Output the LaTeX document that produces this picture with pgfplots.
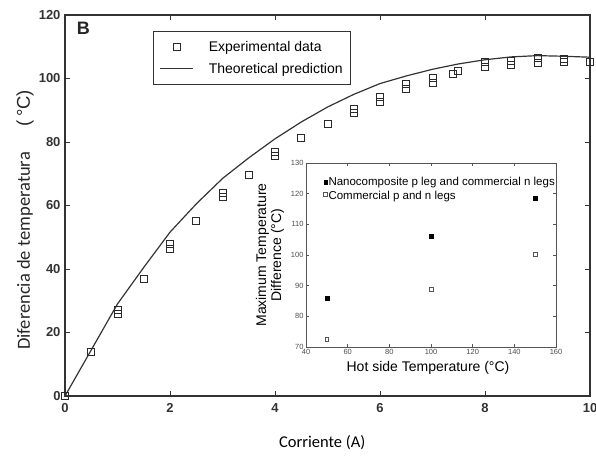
\documentclass[border=0pt]{standalone}
\usepackage{fontspec}
\setmainfont{Liberation Sans}
\newfontfamily\calibri{Carlito}
\usepackage{pgfplots}
\pgfplotsset{compat=1.18}
\definecolor{axgray}{HTML}{333333}
\definecolor{mkgray}{HTML}{2A2A2A}
\definecolor{ingray}{HTML}{555555}
\pgfplotsset{
    lineleg/.style={legend image code/.code={\draw[##1] (0bp,0bp) -- (33bp,0bp);}},
    markleg/.style={legend image code/.code={\draw[##1] plot coordinates {(17bp,0bp)};}},
    smallleg/.style={legend image code/.code={\draw[##1] plot coordinates {(2bp,0bp)};}},
    smalllegup/.style={legend image code/.code={\draw[##1] plot coordinates {(2bp,2bp)};}},
}

\begin{document}
\begin{tikzpicture}[x=1bp,y=1bp]
\path[use as bounding box] (0,0) rectangle (596,456);

% main plot
\begin{axis}[
    at={(65bp,60bp)}, anchor=south west,
    width=525bp, height=381bp, scale only axis,
    xmin=0, xmax=10, ymin=0, ymax=120,
    xtick={0,2,...,10}, ytick={0,20,...,120},
    tick align=inside, major tick length=5bp,
    tick style={axgray, line width=0.9pt},
    axis line style={axgray, line width=1.3pt},
    /pgf/number format/assume math mode=true,
    ticklabel style={font=\fontsize{13bp}{15bp}\selectfont\bfseries, text=black!80},
    xticklabel style={yshift=-4bp},
    yticklabel style={xshift=-1bp},
    xlabel={\calibri Corriente (A)},
    xlabel style={at={(axis description cs:0.49,-0.123)}, anchor=center,
        font=\fontsize{16.5bp}{18bp}\selectfont},
    ylabel={{\calibri Diferencia de temperatura}\hspace{26bp}(\,\textdegree C)},
    ylabel style={at={(axis description cs:-0.076,0.462)}, anchor=center,
        font=\fontsize{18.5bp}{20bp}\selectfont, text=black!85},
    legend style={at={(rel axis cs:0.168,0.958)}, anchor=north west,
        draw=axgray, line width=0.8pt,
        font=\fontsize{14bp}{16bp}\selectfont,
        inner xsep=6bp, inner ysep=8bp, row sep=6bp,
        /tikz/every odd column/.append style={column sep=13bp},
        cells={anchor=west}},
]
\addplot[only marks, mark=square, mark size=3.5bp, mkgray, line width=0.9pt, markleg]
coordinates {
    (0,0) (0.5,13.8) (1,27) (1,25.8) (1.5,37) (2,47.8) (2,46.4)
    (2.5,55.1) (3,63.9) (3,62.7) (3.5,69.7) (4,76.8) (4,75.5)
    (4.5,81.3) (5,85.6) (5.5,90.5) (5.5,89.3) (6,94.3) (6,92.6)
    (6.5,98.4) (6.5,96.6) (7,100.3) (7,98.7) (7.38,101.5) (7.49,102.4)
    (8,105.2) (8,103.7) (8.5,105.5) (8.5,104.4) (9,106.6) (9,105)
    (9.5,106) (9.5,105.2) (10,105.1)
};
\addlegendentry{Experimental data}
\addplot[axgray, line width=1.2pt, lineleg]
coordinates {
    (0,0) (0.5,14.5) (1,29) (1.5,40.5) (2,51.6) (2.5,60.5) (3,68.5)
    (3.5,75) (4,81) (4.5,86.3) (5,91) (5.5,95) (6,98.4) (6.5,100.8)
    (7,102.9) (7.5,104.6) (8,105.9) (8.5,106.8) (9,107.2) (9.5,107)
    (10,106.7)
};
\addlegendentry{Theoretical prediction}
\node[font=\fontsize{18bp}{20bp}\selectfont\bfseries, text=black!85]
    at (rel axis cs:0.035,0.965) {B};
\end{axis}

% inset
\begin{axis}[
    at={(306bp,109bp)}, anchor=south west,
    width=250bp, height=184bp, scale only axis,
    xmin=40, xmax=160, ymin=70, ymax=130,
    xtick={40,60,...,160}, ytick={70,80,...,130},
    tick align=inside, major tick length=3bp,
    tick style={ingray, line width=0.6pt},
    axis line style={ingray, line width=0.9pt},
    /pgf/number format/assume math mode=true,
    ticklabel style={font=\fontsize{7.5bp}{9bp}\selectfont, text=black!70},
    xticklabel style={yshift=1bp},
    yticklabel style={xshift=1bp},
    xlabel={Hot side Temperature (\textdegree C)},
    xlabel style={at={(axis description cs:0.488,-0.114)}, anchor=center,
        font=\fontsize{14bp}{16bp}\selectfont},
    ylabel={Maximum Temperature\\Difference (\textdegree C)},
    ylabel style={at={(axis description cs:-0.144,0.5)}, anchor=center,
        align=center, font=\fontsize{14bp}{15bp}\selectfont},
    legend style={at={(rel axis cs:0.07,0.93)}, anchor=north west,
        draw=none, fill=none,
        font=\fontsize{11.5bp}{13bp}\selectfont,
        inner sep=0bp, row sep=1bp,
        cells={anchor=west},
        nodes={inner xsep=1bp, inner ysep=1.5bp}},
]
\addplot[only marks, mark=square*, mark size=1.9bp, black, smallleg]
coordinates {(50,86) (100,106.2) (150,118.5)};
\addlegendentry{Nanocomposite p leg and commercial n legs}
\addplot[only marks, mark=square, mark size=1.9bp, ingray, line width=0.6pt, smalllegup]
coordinates {(50,72.5) (100,88.9) (150,100.1)};
\addlegendentry{Commercial p and n legs}
\end{axis}
\end{tikzpicture}
\end{document}
